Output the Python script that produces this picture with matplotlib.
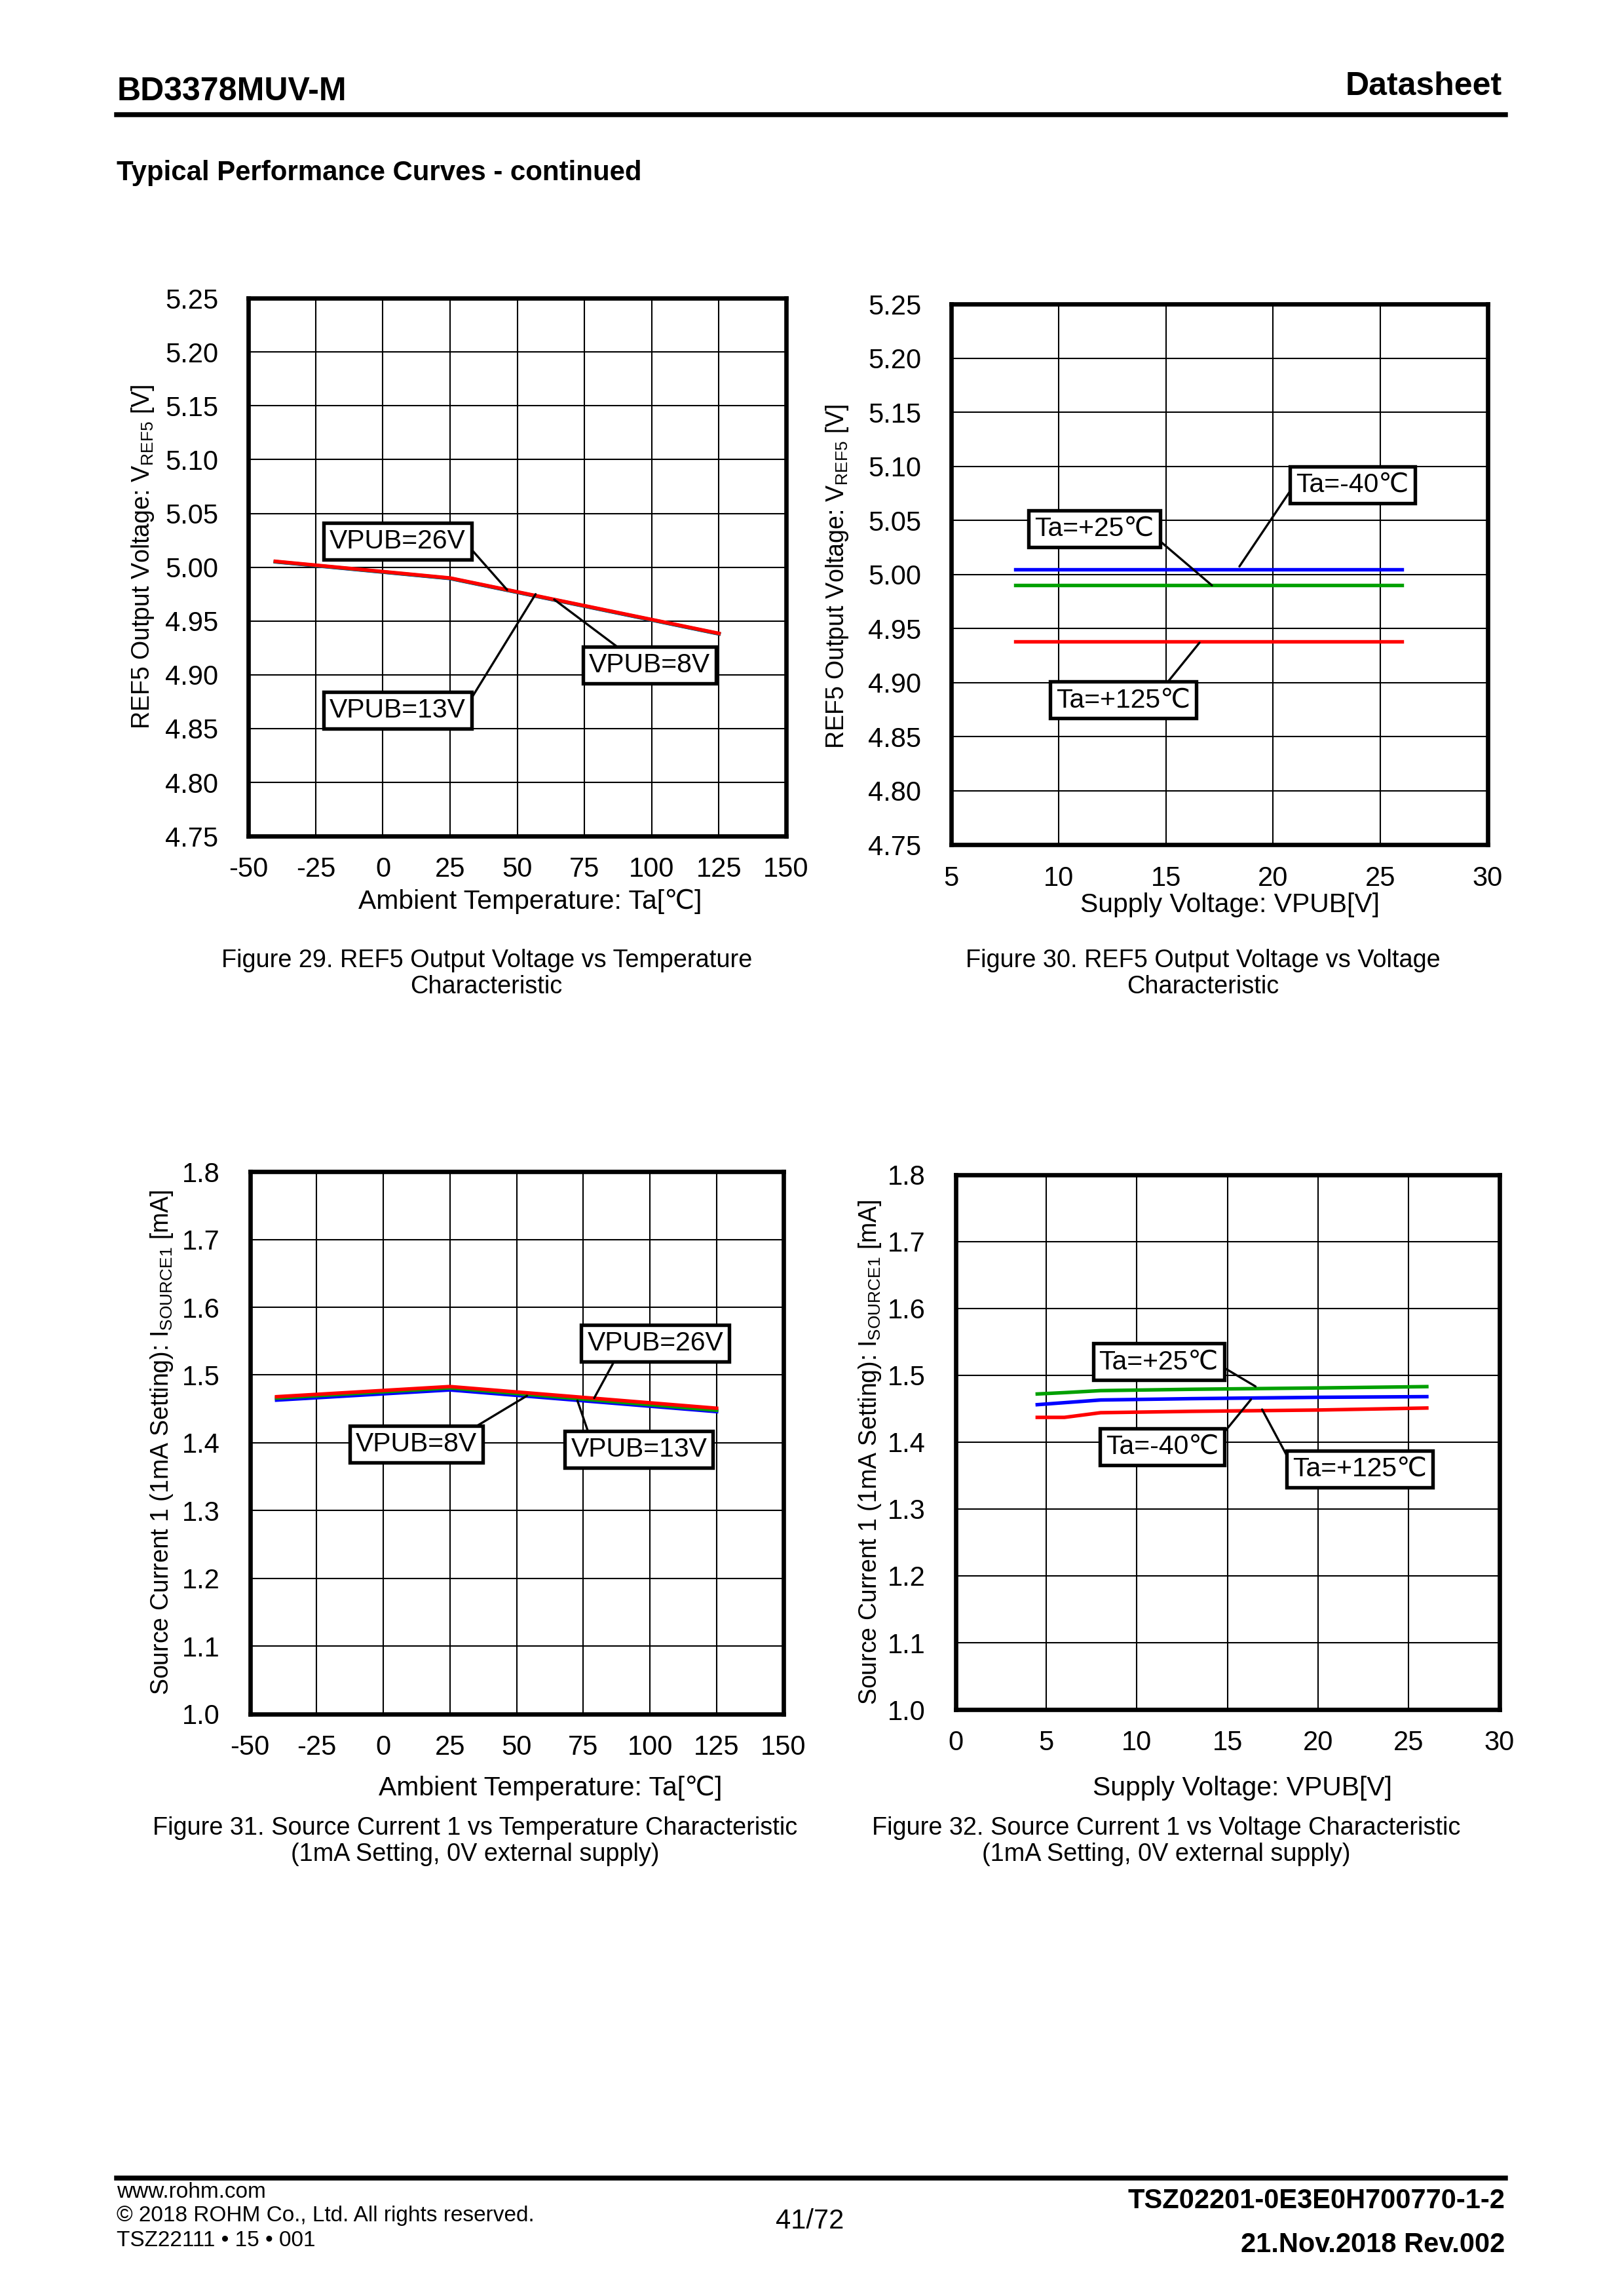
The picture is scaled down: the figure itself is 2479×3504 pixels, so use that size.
import matplotlib
matplotlib.use("Agg")
import matplotlib.pyplot as plt
from matplotlib.lines import Line2D

plt.rcParams['font.family'] = ['Liberation Sans', 'DejaVu Sans']
plt.rcParams['mathtext.default'] = 'regular'
plt.rcParams['axes.unicode_minus'] = False

NARROW = ['Liberation Sans Narrow', 'Liberation Sans', 'DejaVu Sans']

# ---------------- data ----------------
# Figure 29: REF5 vs temperature
TEMP = [-40, 25, 125]
REF5_T_8V = [5.0050, 4.9895, 4.9380]
REF5_T_13V = [5.0052, 4.9897, 4.9382]
REF5_T_26V = [5.0055, 4.9900, 4.9385]

# Figure 30: REF5 vs supply voltage
VPUB_30 = [8, 13, 26]
REF5_V_M40 = [5.005, 5.005, 5.005]
REF5_V_25 = [4.990, 4.990, 4.990]
REF5_V_125 = [4.938, 4.938, 4.938]

# Figure 31: source current vs temperature
ISRC_T_8V = [1.463, 1.478, 1.446]
ISRC_T_13V = [1.466, 1.481, 1.448]
ISRC_T_26V = [1.468, 1.483, 1.451]

# Figure 32: source current vs supply voltage
VPUB_32 = [4.5, 6, 8, 13, 20, 26]
ISRC_V_25 = [1.472, 1.474, 1.477, 1.479, 1.481, 1.483]
ISRC_V_M40 = [1.456, 1.459, 1.463, 1.465, 1.467, 1.468]
ISRC_V_125 = [1.437, 1.437, 1.444, 1.446, 1.448, 1.451]

T_TICKS = [-50, -25, 0, 25, 50, 75, 100, 125, 150]
V_TICKS_30 = [5, 10, 15, 20, 25, 30]
V_TICKS_32 = [0, 5, 10, 15, 20, 25, 30]
REF5_TICKS = [4.75, 4.80, 4.85, 4.90, 4.95, 5.00, 5.05, 5.10, 5.15, 5.20, 5.25]
ISRC_TICKS = [1.0, 1.1, 1.2, 1.3, 1.4, 1.5, 1.6, 1.7, 1.8]

TICK_FS = 10
XLAB_FS = 9.8
YLAB_FS = 9.0
BOX_FS = 9.8

fig = plt.figure(figsize=(2479 / 300, 3504 / 300), dpi=300)


def setup(ax, xticks, yticks, yfmt):
    ax.set_xlim(xticks[0], xticks[-1])
    ax.set_ylim(yticks[0], yticks[-1])
    ax.set_xticks(xticks)
    ax.set_yticks(yticks)
    ax.set_yticklabels([yfmt % v for v in yticks])
    ax.tick_params(length=0, labelsize=TICK_FS)
    ax.tick_params(axis='y', pad=11)
    ax.tick_params(axis='x', pad=7.5)
    ax.grid(True, color='black', lw=0.5)
    ax.set_axisbelow(True)
    for s in ax.spines.values():
        s.set_linewidth(1.6)


def label_box(ax, text, xy_text, xy_tip, relpos):
    ax.annotate(text, xy=xy_tip, xytext=xy_text, ha='center', va='center',
                fontsize=BOX_FS,
                bbox=dict(boxstyle='square,pad=0.22', fc='white', ec='black', lw=1.3),
                arrowprops=dict(arrowstyle='-', color='black', lw=0.8,
                                shrinkA=0, shrinkB=0, relpos=relpos))


def axis_labels(ax, xl, yl, xpos, ypos):
    ax.set_xlabel(xl, fontsize=XLAB_FS)
    ax.set_ylabel(yl, fontsize=YLAB_FS)
    ax.xaxis.set_label_coords(*xpos)
    ax.yaxis.set_label_coords(*ypos)
    ax.xaxis.label.set_va('center')
    ax.yaxis.label.set_va('center')


YL_REF5 = 'REF5 Output Voltage: V$_{REF5}$ [V]'
YL_ISRC = 'Source Current 1 (1mA Setting): I$_{SOURCE1}$ [mA]'
XL_T = 'Ambient Temperature: Ta[℃]'
XL_V = 'Supply Voltage: VPUB[V]'

# ---- Figure 29
ax1 = fig.add_axes([0.1530, 0.6358, 0.3311, 0.2343])
setup(ax1, T_TICKS, REF5_TICKS, '%.2f')
ax1.plot(TEMP, REF5_T_8V, color='#0000ff', lw=1.3)
ax1.plot(TEMP, REF5_T_13V, color='#00a000', lw=1.3)
ax1.plot(TEMP, REF5_T_26V, color='#ff0000', lw=1.3)
axis_labels(ax1, XL_T, YL_REF5, (0.524, -0.122), (-0.196, 0.519))
label_box(ax1, 'VPUB=26V', (5.4, 5.024), (46.2, 4.979), (1, 0.45))
label_box(ax1, 'VPUB=13V', (5.4, 4.867), (56.8, 4.975), (1, 0.6))
label_box(ax1, 'VPUB=8V', (99.1, 4.909), (63.7, 4.970), (0.3, 1))

# ---- Figure 30
ax2 = fig.add_axes([0.5858, 0.6320, 0.3302, 0.2355])
setup(ax2, V_TICKS_30, REF5_TICKS, '%.2f')
ax2.plot(VPUB_30, REF5_V_M40, color='#0000ff', lw=1.3)
ax2.plot(VPUB_30, REF5_V_25, color='#00a000', lw=1.3)
ax2.plot(VPUB_30, REF5_V_125, color='#ff0000', lw=1.3)
axis_labels(ax2, XL_V, YL_REF5, (0.520, -0.111), (-0.2125, 0.497))
label_box(ax2, 'Ta=+25℃', (11.67, 5.0425), (17.15, 4.990), (1, 0.2))
label_box(ax2, 'Ta=-40℃', (23.7, 5.083), (18.43, 5.0075), (0, 0.6))
label_box(ax2, 'Ta=+125℃', (13.0, 4.884), (16.57, 4.937), (0.8, 1))

# ---- Figure 31
ax3 = fig.add_axes([0.1539, 0.2535, 0.3284, 0.2362])
setup(ax3, T_TICKS, ISRC_TICKS, '%.1f')
ax3.plot(TEMP, ISRC_T_8V, color='#0000ff', lw=1.3)
ax3.plot(TEMP, ISRC_T_13V, color='#00a000', lw=1.3)
ax3.plot(TEMP, ISRC_T_26V, color='#ff0000', lw=1.3)
axis_labels(ax3, XL_T, YL_ISRC, (0.564, -0.137), (-0.165, 0.501))
label_box(ax3, 'VPUB=26V', (102, 1.5466), (79.1, 1.466), (0.22, 0))
label_box(ax3, 'VPUB=8V', (12.4, 1.398), (53.9, 1.4694), (0.92, 1))
label_box(ax3, 'VPUB=13V', (95.9, 1.390), (72.8, 1.4623), (0.14, 1))

# ---- Figure 32
ax4 = fig.add_axes([0.5885, 0.2554, 0.3347, 0.2330])
setup(ax4, V_TICKS_32, ISRC_TICKS, '%.1f')
ax4.plot(VPUB_32, ISRC_V_25, color='#00a000', lw=1.3)
ax4.plot(VPUB_32, ISRC_V_M40, color='#0000ff', lw=1.3)
ax4.plot(VPUB_32, ISRC_V_125, color='#ff0000', lw=1.3)
axis_labels(ax4, XL_V, YL_ISRC, (0.527, -0.147), (-0.158, 0.481))
label_box(ax4, 'Ta=+25℃', (11.2, 1.520), (16.55, 1.4832), (1, 0.4))
label_box(ax4, 'Ta=-40℃', (11.4, 1.3934), (16.3, 1.4639), (1, 0.8))
label_box(ax4, 'Ta=+125℃', (22.3, 1.360), (16.91, 1.4489), (0, 0.6))

# ---- captions
CAP_FS = 9.1
fig.text(0.2996, 0.5759, 'Figure 29. REF5 Output Voltage vs Temperature\nCharacteristic',
         ha='center', va='center', fontsize=CAP_FS, linespacing=1.15)
fig.text(0.7406, 0.5759, 'Figure 30. REF5 Output Voltage vs Voltage\nCharacteristic',
         ha='center', va='center', fontsize=CAP_FS, linespacing=1.15)
fig.text(0.2924, 0.1980, 'Figure 31. Source Current 1 vs Temperature Characteristic\n(1mA Setting, 0V external supply)',
         ha='center', va='center', fontsize=CAP_FS, linespacing=1.15)
fig.text(0.7181, 0.1980, 'Figure 32. Source Current 1 vs Voltage Characteristic\n(1mA Setting, 0V external supply)',
         ha='center', va='center', fontsize=CAP_FS, linespacing=1.15)

# ---- page header / footer
fig.text(0.0720, 0.9600, 'BD3378MUV-M', ha='left', va='center', fontsize=12,
         fontweight='bold', family=NARROW)
fig.text(0.9250, 0.9622, 'Datasheet', ha='right', va='center', fontsize=12,
         fontweight='bold', family=NARROW)
fig.add_artist(Line2D([0.0720, 0.9268], [0.9500, 0.9500], color='black', lw=1.8,
                      transform=fig.transFigure))
fig.text(0.0720, 0.9248, 'Typical Performance Curves - continued', ha='left', va='center',
         fontsize=10.1, fontweight='bold', family=NARROW)

fig.add_artist(Line2D([0.0720, 0.9268], [0.0515, 0.0515], color='black', lw=1.8,
                      transform=fig.transFigure))
fig.text(0.0720, 0.0452, 'www.rohm.com', ha='left', va='center', fontsize=8, family=NARROW)
fig.text(0.0720, 0.0349, '© 2018 ROHM Co., Ltd. All rights reserved.', ha='left', va='center',
         fontsize=8, family=NARROW)
fig.text(0.0720, 0.0241, 'TSZ22111 • 15 • 001', ha='left', va='center', fontsize=8, family=NARROW)
fig.text(0.4985, 0.0324, '41/72', ha='center', va='center', fontsize=10, family=NARROW)
fig.text(0.9268, 0.0413, 'TSZ02201-0E3E0H700770-1-2', ha='right', va='center', fontsize=10,
         fontweight='bold', family=NARROW)
fig.text(0.9268, 0.0222, '21.Nov.2018 Rev.002', ha='right', va='center', fontsize=10,
         fontweight='bold', family=NARROW)

fig.savefig('out.png', dpi=300)
